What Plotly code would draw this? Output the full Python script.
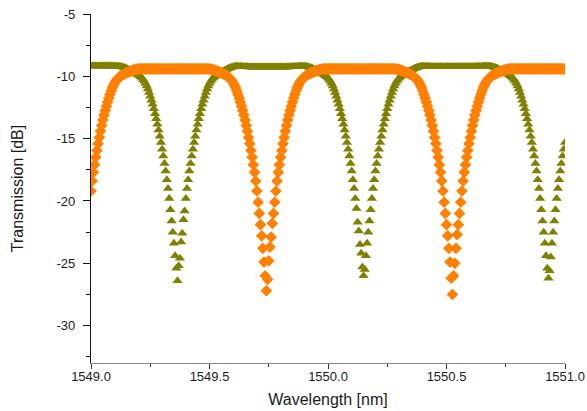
import plotly.graph_objects as go

# Wavelength grid of the measurement (nm), 0.005 nm step
wl_start = 1549.0
wl_step = 0.005
n_points = 401
wavelength = [round(wl_start + wl_step * i, 3) for i in range(n_points)]

# Series 1 (olive triangles), transmission in dB
olive_db = [
    -9.18, -9.18, -9.18, -9.18, -9.18, -9.18, -9.18, -9.18, -9.18, -9.18,
    -9.18, -9.18, -9.18, -9.18, -9.18, -9.18, -9.18, -9.18, -9.18, -9.19,
    -9.19, -9.19, -9.2, -9.2,
    -9.21, -9.22, -9.24, -9.27, -9.3, -9.34, -9.38, -9.42, -9.47, -9.52,
    -9.57, -9.62, -9.67, -9.72, -9.77, -9.83, -9.89, -9.96, -10.04, -10.14,
    -10.26, -10.4, -10.57, -10.78, -11.02, -11.3, -11.6, -11.92, -12.25, -12.6,
    -13.0, -13.4, -13.85, -14.3, -14.8, -15.3, -15.85, -16.4, -17.0, -17.6,
    -18.3, -19.0, -19.8, -20.7, -21.6, -22.5, -23.4, -24.4, -25.4,
    -26.4,
    -25.2, -24.6, -23.3, -22.6, -21.5, -20.8, -19.8, -19.0, -18.3, -17.6,
    -17.0, -16.4, -15.85, -15.3, -14.8, -14.3, -13.85, -13.4, -13.0, -12.6,
    -12.25, -11.92, -11.6, -11.3, -11.02, -10.78, -10.57, -10.4, -10.26, -10.14,
    -10.04, -9.96, -9.89, -9.83, -9.77, -9.72, -9.67, -9.62, -9.57, -9.52,
    -9.47, -9.42, -9.38, -9.34, -9.3, -9.27, -9.24, -9.22, -9.21,
    -9.2, -9.2, -9.21, -9.21, -9.22, -9.22, -9.23, -9.23, -9.24, -9.24,
    -9.25, -9.25, -9.25, -9.26, -9.26, -9.26, -9.26, -9.26, -9.26, -9.26,
    -9.26, -9.26, -9.26, -9.26, -9.26, -9.26, -9.26, -9.26, -9.26,
    -9.26, -9.26, -9.26, -9.26, -9.26, -9.26, -9.26, -9.26, -9.26, -9.26,
    -9.26, -9.26, -9.26, -9.25, -9.25, -9.25, -9.24, -9.24, -9.23, -9.23,
    -9.22, -9.22, -9.21, -9.21, -9.2, -9.2, -9.2, -9.2, -9.2,
    -9.21, -9.22, -9.24, -9.27, -9.3, -9.34, -9.38, -9.42, -9.47, -9.52,
    -9.57, -9.62, -9.67, -9.72, -9.77, -9.83, -9.89, -9.96, -10.04, -10.14,
    -10.26, -10.4, -10.57, -10.78, -11.02, -11.3, -11.6, -11.92, -12.25, -12.6,
    -13.0, -13.4, -13.85, -14.3, -14.8, -15.3, -15.85, -16.4, -17.0, -17.6,
    -18.3, -19.0, -19.8, -20.6, -21.7, -22.4, -23.5, -24.2, -25.3,
    -26.0,
    -25.5, -24.4, -23.4, -22.5, -21.6, -20.7, -19.8, -19.0, -18.3, -17.6,
    -17.0, -16.4, -15.85, -15.3, -14.8, -14.3, -13.85, -13.4, -13.0, -12.6,
    -12.25, -11.92, -11.6, -11.3, -11.02, -10.78, -10.57, -10.4, -10.26, -10.14,
    -10.04, -9.96, -9.89, -9.83, -9.77, -9.72, -9.67, -9.62, -9.57, -9.52,
    -9.47, -9.42, -9.38, -9.34, -9.3, -9.27, -9.24, -9.22, -9.21,
    -9.2, -9.2, -9.21, -9.21, -9.22, -9.22, -9.22, -9.23, -9.23, -9.23,
    -9.23, -9.23, -9.23, -9.23, -9.23, -9.23, -9.23, -9.23, -9.23, -9.23,
    -9.23, -9.23, -9.23, -9.23, -9.23, -9.23, -9.23, -9.23, -9.23,
    -9.23, -9.23, -9.23, -9.23, -9.23, -9.23, -9.23, -9.23, -9.23, -9.23,
    -9.23, -9.23, -9.23, -9.23, -9.23, -9.22, -9.22, -9.22, -9.21, -9.21,
    -9.21, -9.21, -9.2, -9.2, -9.2, -9.2, -9.2, -9.2,
    -9.21, -9.22, -9.24, -9.27, -9.3, -9.34, -9.38, -9.42, -9.47, -9.52,
    -9.57, -9.62, -9.67, -9.72, -9.77, -9.83, -9.89, -9.96, -10.04, -10.14,
    -10.26, -10.4, -10.57, -10.78, -11.02, -11.3, -11.6, -11.92, -12.25, -12.6,
    -13.0, -13.4, -13.85, -14.3, -14.8, -15.3, -15.85, -16.4, -17.0, -17.6,
    -18.3, -19.0, -19.8, -20.7, -21.6, -22.5, -23.4, -24.4, -25.4,
    -26.2,
    -25.6, -24.5, -23.4, -22.5, -21.6, -20.7, -19.8, -19.0, -18.3, -17.6,
    -17.0, -16.4, -15.85, -15.3,
]

# Series 2 (orange diamonds), transmission in dB
orange_db = [
    -19.2, -18.4, -17.7, -17.1, -16.5, -15.95, -15.4, -14.9, -14.4, -13.95,
    -13.5, -13.1, -12.75, -12.4, -12.07, -11.75, -11.45, -11.17, -10.92, -10.71,
    -10.53, -10.38, -10.25, -10.14, -10.05, -9.98, -9.92, -9.87, -9.82, -9.77,
    -9.72, -9.68, -9.64, -9.6, -9.56, -9.53, -9.5, -9.47, -9.45, -9.43,
    -9.42, -9.41,
    -9.4, -9.4, -9.4, -9.4, -9.4, -9.4, -9.4, -9.4, -9.4, -9.4,
    -9.4, -9.4, -9.4, -9.4, -9.4, -9.4, -9.4, -9.4, -9.4, -9.4,
    -9.4, -9.4, -9.4, -9.4, -9.4, -9.4, -9.4, -9.4, -9.4,
    -9.4, -9.4, -9.4, -9.4, -9.4, -9.4, -9.4, -9.4, -9.4, -9.4,
    -9.4, -9.4, -9.4, -9.4, -9.4, -9.4, -9.4, -9.4, -9.4, -9.4,
    -9.4, -9.4, -9.4, -9.4, -9.4, -9.4, -9.4, -9.4,
    -9.41, -9.42, -9.43, -9.45, -9.47, -9.5, -9.53, -9.56, -9.6, -9.64,
    -9.68, -9.72, -9.77, -9.82, -9.87, -9.92, -9.98, -10.05, -10.14, -10.25,
    -10.38, -10.53, -10.71, -10.92, -11.17, -11.45, -11.75, -12.07, -12.4, -12.75,
    -13.1, -13.5, -13.95, -14.4, -14.9, -15.4, -15.95, -16.5, -17.1, -17.7,
    -18.4, -19.2, -20.1, -21.0, -21.9, -22.8, -23.8, -24.9, -26.0,
    -27.2,
    -26.3, -24.8, -23.7, -22.9, -21.8, -21.0, -20.1, -19.2, -18.4, -17.7,
    -17.1, -16.5, -15.95, -15.4, -14.9, -14.4, -13.95, -13.5, -13.1, -12.75,
    -12.4, -12.07, -11.75, -11.45, -11.17, -10.92, -10.71, -10.53, -10.38, -10.25,
    -10.14, -10.05, -9.98, -9.92, -9.87, -9.82, -9.77, -9.72, -9.68, -9.64,
    -9.6, -9.56, -9.53, -9.5, -9.47, -9.45, -9.43, -9.42, -9.41,
    -9.4, -9.4, -9.4, -9.4, -9.4, -9.4, -9.4, -9.4, -9.4, -9.4,
    -9.4, -9.4, -9.4, -9.4, -9.4, -9.4, -9.4, -9.4, -9.4, -9.4,
    -9.4, -9.4, -9.4, -9.4, -9.4, -9.4, -9.4, -9.4, -9.4,
    -9.4, -9.4, -9.4, -9.4, -9.4, -9.4, -9.4, -9.4, -9.4, -9.4,
    -9.4, -9.4, -9.4, -9.4, -9.4, -9.4, -9.4, -9.4, -9.4, -9.4,
    -9.4, -9.4, -9.4, -9.4, -9.4, -9.4, -9.4, -9.4, -9.4,
    -9.41, -9.42, -9.43, -9.45, -9.47, -9.5, -9.53, -9.56, -9.6, -9.64,
    -9.68, -9.72, -9.77, -9.82, -9.87, -9.92, -9.98, -10.05, -10.14, -10.25,
    -10.38, -10.53, -10.71, -10.92, -11.17, -11.45, -11.75, -12.07, -12.4, -12.75,
    -13.1, -13.5, -13.95, -14.4, -14.9, -15.4, -15.95, -16.5, -17.1, -17.7,
    -18.4, -19.2, -20.1, -21.0, -21.9, -22.8, -23.8, -24.9, -26.2,
    -27.5,
    -26.0, -25.0, -23.8, -22.7, -21.9, -21.0, -20.1, -19.2, -18.4, -17.7,
    -17.1, -16.5, -15.95, -15.4, -14.9, -14.4, -13.95, -13.5, -13.1, -12.75,
    -12.4, -12.07, -11.75, -11.45, -11.17, -10.92, -10.71, -10.53, -10.38, -10.25,
    -10.14, -10.05, -9.98, -9.92, -9.87, -9.82, -9.77, -9.72, -9.68, -9.64,
    -9.6, -9.56, -9.53, -9.5, -9.47, -9.45, -9.43, -9.42, -9.41,
    -9.4, -9.4, -9.4, -9.4, -9.4, -9.4, -9.4, -9.4, -9.4, -9.4,
    -9.4, -9.4, -9.4, -9.4, -9.4, -9.4, -9.4, -9.4, -9.4, -9.4,
    -9.4, -9.4, -9.4, -9.4, -9.4, -9.4, -9.4, -9.4, -9.4, -9.4,
    -9.4, -9.4, -9.4, -9.4, -9.4, -9.4, -9.4, -9.4, -9.4, -9.4,
    -9.4, -9.4, -9.4, -9.4, -9.4, -9.4,
]

assert len(olive_db) == n_points, len(olive_db)
assert len(orange_db) == n_points, len(orange_db)

x_ticks = [1549.0, 1549.5, 1550.0, 1550.5, 1551.0]
x_tick_labels = ["1549.0", "1549.5", "1550.0", "1550.5", "1551.0"]
y_ticks = [-30, -25, -20, -15, -10, -5]
y_tick_labels = ["-30", "-25", "-20", "-15", "-10", "-5"]

font_family = "Liberation Sans, Arial, sans-serif"
text_color = "#1a1a1a"

fig = go.Figure()
fig.add_trace(go.Scatter(
    x=wavelength, y=olive_db, mode="markers",
    marker=dict(symbol="triangle-up", size=9, color="#808000", line=dict(width=0)),
    showlegend=False,
))
fig.add_trace(go.Scatter(
    x=wavelength, y=orange_db, mode="markers",
    marker=dict(symbol="diamond", size=9, color="#FF8000", line=dict(width=0)),
    showlegend=False,
))

fig.update_layout(
    template="none",
    width=587, height=411,
    margin=dict(l=91, r=22, t=14, b=48, autoexpand=False),
    paper_bgcolor="white", plot_bgcolor="white",
    font=dict(family=font_family, size=13, color=text_color),
    xaxis=dict(
        range=[1549.0, 1551.0], automargin=False,
        tickvals=x_ticks, ticktext=x_tick_labels,
        ticks="outside", ticklen=5, tickwidth=1, tickcolor="#333",
        ticklabelstandoff=-4,
        showline=True, linecolor="#888", linewidth=1, mirror=False,
        showgrid=False, zeroline=False,
        minor=dict(dtick=0.25, tick0=1549.0, ticks="outside", ticklen=3, tickcolor="#333", showgrid=False),
        tickfont=dict(size=13, color=text_color),
        title=dict(text="Wavelength [nm]", font=dict(size=16, color=text_color), standoff=11),
    ),
    yaxis=dict(
        range=[-33, -5], automargin=False,
        tickvals=y_ticks, ticktext=y_tick_labels,
        ticks="outside", ticklen=7, tickwidth=1, tickcolor="#111",
        ticklabelstandoff=5,
        showline=True, linecolor="#111", linewidth=1.3, mirror=False,
        showgrid=False, zeroline=False,
        minor=dict(dtick=2.5, tick0=-5, ticks="outside", ticklen=4, tickcolor="#111", showgrid=False),
        tickfont=dict(size=13, color=text_color),
        title=dict(text="Transmission [dB]", font=dict(size=16, color=text_color), standoff=28),
    ),
)

fig.write_html("out.html")
